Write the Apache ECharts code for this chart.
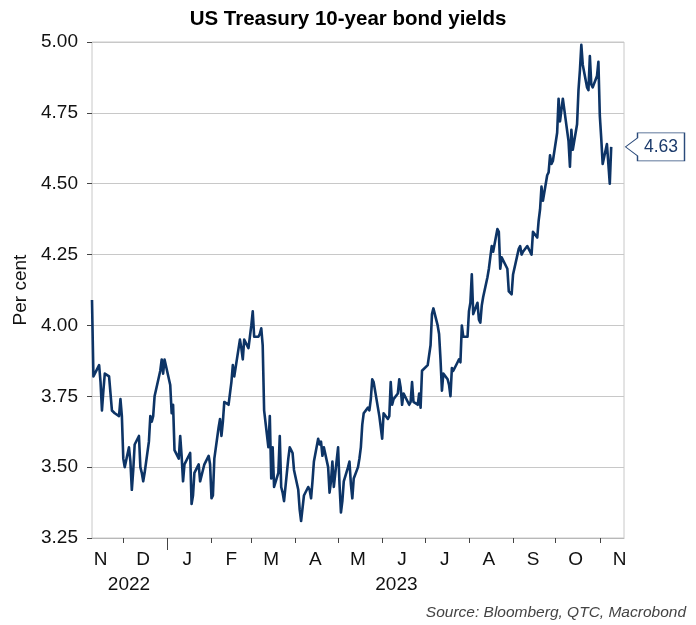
<!DOCTYPE html>
<html><head><meta charset="utf-8">
<script src="https://cdn.jsdelivr.net/npm/echarts@6/dist/echarts.min.js"></script>
<style>html,body{margin:0;padding:0;background:#fff}#c{width:696px;height:625px}</style>
</head><body><div id="c"></div>
<script>
// ---- data ----
const dates = [
'2022-11-09','2022-11-10','2022-11-14','2022-11-15','2022-11-16','2022-11-17','2022-11-18','2022-11-21','2022-11-22','2022-11-23','2022-11-25','2022-11-28','2022-11-29','2022-11-30',
'2022-12-01','2022-12-02','2022-12-05','2022-12-06','2022-12-07','2022-12-08','2022-12-09','2022-12-12','2022-12-13','2022-12-14','2022-12-15','2022-12-16','2022-12-19','2022-12-20','2022-12-21','2022-12-22','2022-12-23','2022-12-27','2022-12-28','2022-12-29','2022-12-30',
'2023-01-03','2023-01-04','2023-01-05','2023-01-06','2023-01-09','2023-01-10','2023-01-11','2023-01-12','2023-01-13','2023-01-17','2023-01-18','2023-01-19','2023-01-20','2023-01-23','2023-01-24','2023-01-25','2023-01-26','2023-01-27','2023-01-30','2023-01-31',
'2023-02-01','2023-02-02','2023-02-03','2023-02-06','2023-02-07','2023-02-08','2023-02-09','2023-02-10','2023-02-13','2023-02-14','2023-02-15','2023-02-16','2023-02-17','2023-02-21','2023-02-22','2023-02-23','2023-02-24','2023-02-27','2023-02-28',
'2023-03-01','2023-03-02','2023-03-03','2023-03-06','2023-03-07','2023-03-08','2023-03-09','2023-03-10','2023-03-13','2023-03-14','2023-03-15','2023-03-16','2023-03-17','2023-03-20','2023-03-21','2023-03-22','2023-03-23','2023-03-24','2023-03-27','2023-03-28','2023-03-29','2023-03-30','2023-03-31',
'2023-04-03','2023-04-04','2023-04-05','2023-04-06','2023-04-07','2023-04-10','2023-04-11','2023-04-12','2023-04-13','2023-04-14','2023-04-17','2023-04-18','2023-04-19','2023-04-20','2023-04-21','2023-04-24','2023-04-25','2023-04-26','2023-04-27','2023-04-28',
'2023-05-01','2023-05-02','2023-05-03','2023-05-04','2023-05-05','2023-05-08','2023-05-09','2023-05-10','2023-05-11','2023-05-12','2023-05-15','2023-05-16','2023-05-17','2023-05-18','2023-05-19','2023-05-22','2023-05-23','2023-05-24','2023-05-25','2023-05-26','2023-05-30','2023-05-31',
'2023-06-01','2023-06-02','2023-06-05','2023-06-06','2023-06-07','2023-06-08','2023-06-09','2023-06-12','2023-06-13','2023-06-14','2023-06-15','2023-06-16','2023-06-20','2023-06-21','2023-06-22','2023-06-23','2023-06-26','2023-06-27','2023-06-28','2023-06-29','2023-06-30',
'2023-07-03','2023-07-05','2023-07-06','2023-07-07','2023-07-10','2023-07-11','2023-07-12','2023-07-13','2023-07-14','2023-07-17','2023-07-18','2023-07-19','2023-07-20','2023-07-21','2023-07-24','2023-07-25','2023-07-26','2023-07-27','2023-07-28','2023-07-31',
'2023-08-01','2023-08-02','2023-08-03','2023-08-04','2023-08-07','2023-08-08','2023-08-09','2023-08-10','2023-08-11','2023-08-14','2023-08-15','2023-08-16','2023-08-17','2023-08-18','2023-08-21','2023-08-22','2023-08-23','2023-08-24','2023-08-25','2023-08-28','2023-08-29','2023-08-30','2023-08-31',
'2023-09-01','2023-09-05','2023-09-06','2023-09-07','2023-09-08','2023-09-11','2023-09-12','2023-09-13','2023-09-14','2023-09-15','2023-09-18','2023-09-19','2023-09-20','2023-09-21','2023-09-22','2023-09-25','2023-09-26','2023-09-27','2023-09-28','2023-09-29',
'2023-10-02','2023-10-03','2023-10-04','2023-10-05','2023-10-06','2023-10-10','2023-10-11','2023-10-12','2023-10-13','2023-10-16','2023-10-17','2023-10-18','2023-10-19','2023-10-20','2023-10-23','2023-10-24','2023-10-25','2023-10-26','2023-10-27','2023-10-30','2023-10-31',
'2023-11-01','2023-11-02','2023-11-03','2023-11-06','2023-11-07','2023-11-08','2023-11-09'
];
const yields = [
4.09,3.82,3.86,3.80,3.70,3.77,3.83,3.82,3.76,3.70,3.69,3.68,3.74,3.68,
3.53,3.50,3.57,3.52,3.42,3.49,3.58,3.61,3.50,3.48,3.45,3.48,3.59,3.68,3.66,3.68,3.75,3.84,3.88,3.83,3.88,
3.79,3.69,3.72,3.56,3.53,3.61,3.54,3.45,3.51,3.55,3.37,3.40,3.48,3.51,3.45,3.45,3.49,3.51,3.54,3.51,
3.39,3.40,3.53,3.64,3.67,3.61,3.66,3.73,3.72,3.76,3.80,3.86,3.82,3.95,3.92,3.88,3.95,3.92,3.92,
4.00,4.05,3.96,3.96,3.97,3.99,3.93,3.70,3.57,3.68,3.46,3.57,3.43,3.48,3.61,3.43,3.41,3.38,3.53,3.57,3.56,3.55,3.49,
3.42,3.35,3.31,3.31,3.40,3.43,3.42,3.39,3.45,3.52,3.60,3.58,3.59,3.54,3.57,3.50,3.41,3.45,3.52,3.43,
3.57,3.44,3.34,3.38,3.45,3.50,3.52,3.44,3.39,3.46,3.50,3.53,3.57,3.65,3.69,3.71,3.70,3.74,3.81,3.80,3.68,3.64,
3.60,3.69,3.67,3.68,3.80,3.72,3.74,3.76,3.81,3.78,3.72,3.76,3.72,3.73,3.80,3.73,3.72,3.76,3.71,3.84,3.84,
3.86,3.93,4.04,4.06,4.00,3.97,3.88,3.77,3.83,3.81,3.79,3.75,3.85,3.84,3.87,3.88,3.87,4.00,3.96,3.96,
4.05,4.08,4.18,4.04,4.08,4.02,4.01,4.07,4.10,4.17,4.20,4.24,4.28,4.26,4.34,4.33,4.20,4.24,4.24,4.20,4.12,4.12,4.11,
4.18,4.27,4.28,4.25,4.26,4.28,4.27,4.26,4.25,4.33,4.31,4.37,4.41,4.49,4.44,4.53,4.54,4.60,4.57,4.58,
4.68,4.80,4.72,4.72,4.80,4.65,4.56,4.69,4.62,4.71,4.83,4.90,4.99,4.92,4.84,4.83,4.95,4.85,4.84,4.88,4.93,
4.74,4.66,4.57,4.64,4.57,4.50,4.63
];
const axisStart = '2022-11-09';
const axisEnd = '2023-11-18';
const monthTickDates = ['2022-12-01','2023-01-01','2023-02-01','2023-03-01','2023-04-01','2023-05-01','2023-06-01','2023-07-01','2023-08-01','2023-09-01','2023-10-01','2023-11-01'];
const monthLabelDates = ['2022-11-15','2022-12-15','2023-01-15','2023-02-15','2023-03-15','2023-04-15','2023-05-15','2023-06-15','2023-07-15','2023-08-15','2023-09-15','2023-10-15','2023-11-15'];
const monthLabels = ['N','D','J','F','M','A','M','J','J','A','S','O','N'];
const yearLabelDates = ['2022-12-05','2023-06-11'];
const yearLabels = ['2022','2023'];
const yearBoundaryDates = ['2023-01-01'];
const yMin = 3.25, yMax = 5.00, yStep = 0.25;

// ---- chart ----
const FONT = '"Liberation Sans", Arial, sans-serif';
const NAVY = '#0d3466';
const ts = s => +echarts.time.parse(s);
const monthLabelTs = monthLabelDates.map(ts);
const yearLabelTs = yearLabelDates.map(ts);
const lookup = (arr, labels, v) => {
  let best = 0, bd = Infinity;
  arr.forEach((t, i) => { const d = Math.abs(t - v); if (d < bd) { bd = d; best = i; } });
  return labels[best];
};
const chart = echarts.init(document.getElementById('c'), null, {renderer: 'canvas'});
const lastIdx = yields.length - 1;
const xMin = ts(axisStart), xMax = ts(axisEnd);
chart.setOption({
  animation: false,
  textStyle: {fontFamily: FONT},
  title: {
    text: 'US Treasury 10-year bond yields', left: 'center', top: 4,
    textStyle: {fontFamily: FONT, fontSize: 20.5, fontWeight: 'bold', color: '#000'}
  },
  grid: {left: 92, right: 72, top: 42, bottom: 87, show: true, borderColor: '#c8c8c8', borderWidth: 1},
  xAxis: [{
    type: 'value', min: xMin, max: xMax, position: 'bottom',
    axisLine: {show: true, lineStyle: {color: '#b8b8b8', width: 1}},
    axisTick: {show: true, customValues: monthTickDates.map(ts), length: 5, lineStyle: {color: '#444'}},
    axisLabel: {
      customValues: monthLabelTs, margin: 12, fontSize: 19, color: '#111', fontFamily: FONT,
      formatter: v => lookup(monthLabelTs, monthLabels, v)
    },
    splitLine: {show: false}
  }, {
    type: 'value', min: xMin, max: xMax, position: 'bottom',
    axisLine: {show: false},
    axisTick: {show: true, customValues: yearBoundaryDates.map(ts), length: 12, lineStyle: {color: '#444'}},
    axisLabel: {
      customValues: yearLabelTs, margin: 37, fontSize: 19, color: '#111', fontFamily: FONT,
      formatter: v => lookup(yearLabelTs, yearLabels, v)
    },
    splitLine: {show: false}
  }],
  yAxis: {
    type: 'value', min: yMin, max: yMax, interval: yStep,
    name: 'Per cent', nameLocation: 'middle', nameRotate: 90, nameGap: 62,
    nameTextStyle: {fontSize: 19, color: '#111', fontFamily: FONT},
    axisLine: {show: false},
    axisTick: {show: true, length: 5, lineStyle: {color: '#444'}},
    axisLabel: {margin: 14, fontSize: 19, color: '#111', fontFamily: FONT, formatter: v => v.toFixed(2)},
    splitLine: {show: true, lineStyle: {color: '#c8c8c8', width: 1}}
  },
  series: [{
    type: 'line', xAxisIndex: 0,
    data: dates.map((d, i) => [ts(d), yields[i]]),
    showSymbol: false, symbol: 'none', clip: false,
    lineStyle: {color: NAVY, width: 2.6, join: 'round'},
    itemStyle: {color: NAVY},
    markPoint: {
      silent: true,
      symbol: 'path://M0,14 L12,5 L12,0 L59,0 L59,28 L12,28 L12,23 Z',
      symbolSize: [59, 28], symbolKeepAspect: false,
      symbolOffset: [31, 0],
      itemStyle: {color: '#fff', borderColor: '#2a4a7a', borderWidth: 1},
      label: {show: true, position: 'inside', offset: [6, 0], color: '#1b3a6b', fontSize: 17.5, fontFamily: FONT,
        formatter: p => (+p.value).toFixed(2)},
      data: [{coord: [xMax, yields[lastIdx]], value: yields[lastIdx]}]
    }
  }],
  graphic: [{
    type: 'text', right: 10, bottom: 4,
    style: {text: 'Source: Bloomberg, QTC, Macrobond', fill: '#444', font: 'italic 15.5px ' + FONT}
  }]
});
</script></body></html>
